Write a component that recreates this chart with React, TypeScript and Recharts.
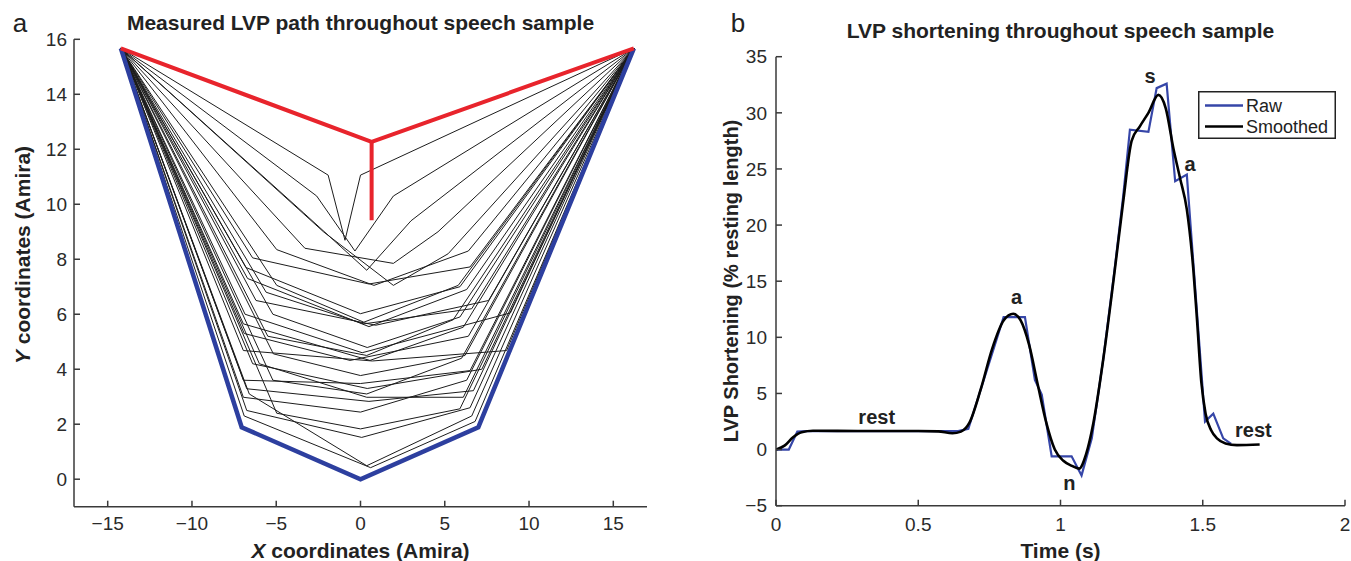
import React from 'react';
import { LineChart, Line, XAxis, YAxis, Legend, ReferenceDot } from 'recharts';

const FONT = "'Liberation Sans', Arial, Helvetica, sans-serif";

// ---------- Panel a: measured LVP paths ----------
const pathLeftEnd = [-14.22, 15.67];
const pathRightEnd = [16.22, 15.67];
// three interior vertices (x, y) of each black path
const blackPathMids: number[][] = [
  [-1.92, 11.06, -0.92, 8.69, 0.0, 11.06],
  [-2.6, 10.3, -0.33, 8.3, 1.95, 10.3],
  [-3.4, 9.7, 0.37, 7.6, 3.0, 9.4],
  [-4.97, 8.35, 0.8, 7.05, 6.4, 8.3],
  [-3.3, 8.4, 1.95, 7.85, 4.6, 9.0],
  [-2.2, 9.0, 1.95, 7.05, 5.2, 8.2],
  [-6.4, 8.05, 0.5, 7.1, 6.5, 7.72],
  [-6.8, 7.7, 0.0, 6.02, 5.9, 7.0],
  [-4.97, 7.05, 0.2, 5.71, 5.8, 7.05],
  [-6.7, 7.3, 0.5, 5.55, 6.3, 6.9],
  [-5.6, 6.8, 0.2, 5.65, 6.6, 6.2],
  [-6.2, 6.5, 0.9, 5.6, 7.6, 6.5],
  [-5.2, 6.0, 0.4, 4.79, 5.9, 5.9],
  [-6.85, 6.0, 0.1, 4.6, 8.9, 6.05],
  [-5.5, 5.2, 0.37, 4.5, 5.5, 5.8],
  [-6.95, 5.65, 0.56, 4.32, 6.1, 5.53],
  [-6.9, 5.3, -0.62, 4.32, 6.4, 5.2],
  [-6.95, 4.68, 0.7, 4.3, 8.67, 4.68],
  [-5.17, 4.56, 0.0, 3.77, 6.2, 4.5],
  [-6.4, 4.2, 0.4, 3.3, 7.2, 4.0],
  [-6.95, 3.6, 0.0, 3.48, 6.5, 3.95],
  [-5.2, 3.6, 0.37, 3.1, 6.0, 4.4],
  [-6.75, 3.29, 0.5, 2.83, 6.7, 3.22],
  [-6.0, 4.2, 0.37, 2.98, 6.1, 2.98],
  [-6.95, 2.98, 0.0, 2.44, 6.3, 3.6],
  [-4.97, 2.4, 0.0, 1.83, 5.9, 2.56],
  [-6.75, 2.5, 0.07, 1.52, 6.5, 2.6],
  [-6.6, 3.1, 0.37, 0.49, 6.6, 2.3],
  [-6.9, 2.3, 0.6, 0.42, 6.8, 2.1],
];
const redPathX = [-14.22, 0.66, 16.22];
const redPathY = [15.67, 12.27, 15.67];
const redStemX = [0.66, 0.66];
const redStemY = [12.27, 9.42];
const bluePathX = [-14.22, -7.05, 0, 6.99, 16.22];
const bluePathY = [15.67, 1.89, 0, 1.89, 15.67];
const leftXTicks = [-15, -10, -5, 0, 5, 10, 15];
const leftYTicks = [0, 2, 4, 6, 8, 10, 12, 14, 16];

// ---------- Panel b: LVP shortening ----------
const rawTime = [0, 0.045, 0.075, 0.11, 0.64, 0.676, 0.8, 0.875, 0.91, 0.934, 0.969, 1.039, 1.074, 1.11, 1.15, 1.19, 1.22, 1.244, 1.309, 1.338, 1.373, 1.403, 1.444, 1.508, 1.537, 1.572, 1.6];
const rawShortening = [0, 0, 1.6, 1.65, 1.65, 1.85, 11.8, 11.8, 6.2, 4.9, -0.6, -0.6, -2.3, 1.0, 8.0, 16.0, 22.5, 28.5, 28.3, 32.2, 32.6, 23.9, 24.5, 2.5, 3.2, 1.0, 0.5];
const smoothTime = [0, 0.03, 0.06, 0.09, 0.13, 0.3, 0.5, 0.57, 0.62, 0.65, 0.68, 0.72, 0.76, 0.8, 0.834, 0.86, 0.89, 0.92, 0.95, 0.98, 1.01, 1.04, 1.065, 1.09, 1.115, 1.15, 1.186, 1.22, 1.25, 1.279, 1.309, 1.344, 1.37, 1.397, 1.42, 1.444, 1.467, 1.48, 1.495, 1.51, 1.53, 1.55, 1.58, 1.62, 1.7];
const smoothShortening = [0, 0.35, 1.1, 1.55, 1.68, 1.65, 1.65, 1.62, 1.45, 1.6, 2.4, 5.4, 9.0, 11.5, 12.1, 11.5, 9.3, 5.8, 2.4, 0.0, -1.0, -1.45, -1.7, -0.4, 2.3, 8.0, 15.0, 22.0, 27.5, 28.8, 30.0, 31.6, 30.4, 26.8, 24.2, 21.4, 16.0, 11.5, 6.0, 3.2, 1.7, 1.0, 0.55, 0.4, 0.45];
const rightXTicks = [0, 0.5, 1, 1.5, 2];
const rightYTicks = [-5, 0, 5, 10, 15, 20, 25, 30, 35];
const annotationText = ['rest', 'a', 'n', 's', 'a', 'rest'];
const annotationTime = [0.354, 0.846, 1.031, 1.315, 1.455, 1.678];
const annotationValue = [2.93, 13.6, -2.95, 33.3, 25.4, 1.7];

const toPoints = (xs: number[], ys: number[]) => xs.map((x, i) => ({ x, y: ys[i] }));
const minus = (v: number) => String(v).replace('-', '\u2212');

const AXIS_COLOR = '#3a3a3a';
const tickStyle = { fill: '#2a2a2a', fontSize: 19, fontFamily: FONT };
const axisLine = { stroke: AXIS_COLOR, strokeWidth: 1.5 };
const tickLine = { stroke: AXIS_COLOR, strokeWidth: 1.5 };

function LeftPanel() {
  const paths = blackPathMids.map((m) =>
    toPoints(
      [pathLeftEnd[0], m[0], m[2], m[4], pathRightEnd[0]],
      [pathLeftEnd[1], m[1], m[3], m[5], pathRightEnd[1]]
    )
  );
  return (
    <LineChart width={680} height={561} margin={{ top: 39.3, right: 33, bottom: 24.3, left: 0 }}>
      <XAxis
        type="number"
        dataKey="x"
        domain={[-17, 17]}
        ticks={leftXTicks}
        interval={0}
        allowDataOverflow
        height={30}
        tickSize={-6}
        tickMargin={16}
        tick={tickStyle}
        axisLine={axisLine}
        tickLine={tickLine}
        tickFormatter={minus}
      />
      <YAxis
        type="number"
        dataKey="y"
        domain={[-1, 16]}
        ticks={leftYTicks}
        interval={0}
        allowDataOverflow
        width={74}
        tickSize={-6}
        tickMargin={13}
        tick={tickStyle}
        axisLine={axisLine}
        tickLine={tickLine}
        tickFormatter={minus}
      />
      {paths.map((d, i) => (
        <Line key={'p' + i} data={d} dataKey="y" stroke="#1c1c1c" strokeWidth={1} dot={false} activeDot={false} isAnimationActive={false} />
      ))}
      <Line data={toPoints(bluePathX, bluePathY)} dataKey="y" stroke="#2d3f9f" strokeWidth={4.5} dot={false} activeDot={false} isAnimationActive={false} />
      <Line data={toPoints(redPathX, redPathY)} dataKey="y" stroke="#e8242c" strokeWidth={4} dot={false} activeDot={false} isAnimationActive={false} />
      <Line data={toPoints(redStemX, redStemY)} dataKey="y" stroke="#e8242c" strokeWidth={4} dot={false} activeDot={false} isAnimationActive={false} />
    </LineChart>
  );
}

function LegendBox(props: any) {
  const items = (props.payload || []) as any[];
  return (
    <svg width={138} height={48} style={{ display: 'block', overflow: 'visible' }}>
      <rect x={0.75} y={0.75} width={136.5} height={46.5} fill="#fff" stroke="#222" strokeWidth={1.5} />
      {items.map((it, i) => (
        <g key={i}>
          <line x1={7} x2={45} y1={14.5 + i * 21} y2={14.5 + i * 21} stroke={it.color} strokeWidth={2.5} />
          <text x={48} y={14.5 + i * 21} dominantBaseline="central" fontSize={18} fontFamily={FONT} fill="#222">
            {it.value}
          </text>
        </g>
      ))}
    </svg>
  );
}

function RightPanel() {
  return (
    <LineChart width={671} height={561} margin={{ top: 56.7, right: 6, bottom: 25.3, left: 0 }}>
      <XAxis
        type="number"
        dataKey="x"
        domain={[0, 2]}
        ticks={rightXTicks}
        interval={0}
        allowDataOverflow
        height={30}
        tickSize={-6}
        tickMargin={18}
        tick={tickStyle}
        axisLine={axisLine}
        tickLine={tickLine}
      />
      <YAxis
        type="number"
        dataKey="y"
        domain={[-5, 35]}
        ticks={rightYTicks}
        interval={0}
        allowDataOverflow
        width={96}
        tickSize={-6}
        tickMargin={15}
        tick={tickStyle}
        axisLine={axisLine}
        tickLine={tickLine}
        tickFormatter={minus}
      />
      <Line name="Raw" data={toPoints(rawTime, rawShortening)} dataKey="y" stroke="#3646a8" strokeWidth={2.2} dot={false} activeDot={false} isAnimationActive={false} />
      <Line name="Smoothed" type="monotone" data={toPoints(smoothTime, smoothShortening)} dataKey="y" stroke="#000" strokeWidth={2.6} dot={false} activeDot={false} isAnimationActive={false} />
      {annotationText.map((t, i) => (
        <ReferenceDot
          key={'ann' + i}
          x={annotationTime[i]}
          y={annotationValue[i]}
          r={0}
          shape={(p: any) => (
            <text x={p.cx} y={p.cy} textAnchor="middle" dominantBaseline="central" fontSize={20} fontWeight="bold" fontFamily={FONT} fill="#222">
              {t}
            </text>
          )}
        />
      ))}
      <Legend
        layout="vertical"
        align="center"
        verticalAlign="middle"
        content={<LegendBox />}
        wrapperStyle={{ position: 'absolute', left: 518, top: 90.5, width: 138, height: 48 }}
      />
    </LineChart>
  );
}

export default function App() {
  return (
    <div style={{ position: 'absolute', left: 0, top: 0, width: 1351, height: 561, background: '#fff', overflow: 'hidden' }}>
      <div style={{ position: 'absolute', left: 0, top: 0 }}>
        <LeftPanel />
      </div>
      <div style={{ position: 'absolute', left: 680, top: 0 }}>
        <RightPanel />
      </div>
      <svg width={1351} height={561} style={{ position: 'absolute', left: 0, top: 0, pointerEvents: 'none' }} fontFamily={FONT}>
        <text x={20} y={32} textAnchor="middle" fontSize={26} fill="#222">a</text>
        <text x={360.5} y={30} textAnchor="middle" fontSize={21} fontWeight="bold" fill="#222">Measured LVP path throughout speech sample</text>
        <text x={360.5} y={558} textAnchor="middle" fontSize={21} fontWeight="bold" fill="#222">
          <tspan fontStyle="italic">X</tspan> coordinates (Amira)
        </text>
        <text x={30} y={255} textAnchor="middle" fontSize={21} fontWeight="bold" fill="#222" transform="rotate(-90 30 255)">
          <tspan fontStyle="italic">Y</tspan> coordinates (Amira)
        </text>
        <text x={738} y={32} textAnchor="middle" fontSize={26} fill="#222">b</text>
        <text x={1060.5} y={38} textAnchor="middle" fontSize={21} fontWeight="bold" fill="#222">LVP shortening throughout speech sample</text>
        <text x={1060.5} y={558} textAnchor="middle" fontSize={21} fontWeight="bold" fill="#222">Time (s)</text>
        <text x={738} y={281} textAnchor="middle" fontSize={20} fontWeight="bold" fill="#222" transform="rotate(-90 738 281)">LVP Shortening (% resting length)</text>
      </svg>
    </div>
  );
}
